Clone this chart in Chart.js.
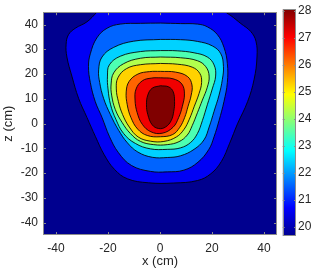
<!DOCTYPE html>
<html>
<head>
<meta charset="utf-8">
<script src="https://cdn.jsdelivr.net/npm/chart.js@4.4.1/dist/chart.umd.min.js"></script>
<style>
  body { margin: 0; background: #fff; }
  #wrap { position: relative; width: 316px; height: 270px; }
  #contour-chart { position: absolute; left: 0; top: 0; }
  #colorbar { position: absolute; left: 280px; top: 0; }
</style>
</head>
<body>
<div id="wrap">
  <canvas id="contour-chart" width="316" height="270"></canvas>
  <canvas id="colorbar" width="36" height="270"></canvas>
</div>
<script>
// contour lines, as [x (cm), z (cm)] pairs, outermost first
const contour1 = [[0, 52], [-22.8, 46.8], [-24.3, 45], [-28.1, 41.1], [-32.6, 38.5], [-35.2, 35.9], [-36.1, 32.1], [-35.8, 26.9], [-33.9, 19.2], [-31.3, 10.2], [-28.1, 2.5], [-24.8, -5.3], [-21.5, -12.5], [-17.5, -18.5], [-12.5, -22.3], [-4.5, -23.9], [5.3, -24.0], [14.4, -23.0], [19.5, -20.3], [23.6, -15.3], [26.8, -7.9], [29.8, -0.1], [33.7, 8.9], [36.2, 17.9], [37.3, 26.9], [36.9, 33.3], [34.9, 37.2], [31.1, 40.4], [27.3, 43.6], [25.3, 45], [23.8, 46.8]];
const contour2 = [[0.2, 40.6], [7.9, 40.4], [14.4, 40.2], [18.2, 39.1], [22.1, 35.9], [24.6, 30.8], [25.9, 24.3], [25.9, 16.6], [24.6, 8.9], [22.7, 1.2], [20.8, -5.3], [18.8, -10.4], [14.6, -15.6], [9.2, -18.8], [2.8, -19.5], [-3.7, -19.3], [-11.0, -16.9], [-16.0, -11.7], [-19.4, -5.3], [-22.3, 2.5], [-24.9, 8.9], [-26.8, 16.6], [-27.5, 23.1], [-26.8, 28.2], [-24.3, 34.6], [-20.4, 38.5], [-15.3, 40.2], [-7.5, 40.5]];
const contour3 = [[0.2, 34.0], [7.9, 33.9], [14.4, 33.2], [20.1, 31.4], [23.4, 28.2], [24.4, 23.0], [24.0, 17.9], [22.7, 11.5], [20.8, 5.0], [18.9, -1.4], [16.9, -6.6], [13.1, -10.4], [7.9, -13.0], [2.8, -13.7], [-3.0, -13.6], [-8.5, -11.5], [-12.5, -7.8], [-15.9, -2.7], [-19.1, 3.7], [-21.7, 10.2], [-23.2, 16.6], [-23.6, 21.7], [-22.3, 26.9], [-17.8, 30.8], [-10.1, 33.3]];
const contour4 = [[0.2, 29.5], [6.6, 29.4], [13.1, 28.6], [18.2, 26.9], [20.8, 23.7], [21.4, 19.2], [20.1, 14.0], [18.2, 7.6], [16.3, 1.2], [14.4, -4.0], [11.8, -7.6], [7.9, -9.8], [2.8, -10.4], [-3.7, -10.2], [-9.5, -8.0], [-14.0, -4.0], [-17.0, 1.8], [-19.0, 7.6], [-20.0, 14.0], [-20.2, 19.2], [-19.5, 23.7], [-15.3, 27.2], [-7.5, 29.1]];
const contour5 = [[0.2, 26.9], [7.9, 26.6], [14.4, 25.4], [17.6, 23.0], [18.9, 19.2], [18.2, 14.7], [16.3, 9.5], [14.4, 4.4], [12.4, -0.8], [10.5, -4.6], [7.3, -7.3], [2.8, -8.5], [-2.4, -8.5], [-7.5, -7.2], [-11.4, -4.0], [-14.6, 0.5], [-17.2, 5.7], [-18.6, 11.5], [-18.8, 16.0], [-17.8, 20.5], [-14.0, 24.2], [-7.5, 26.4]];
const contour6 = [[0.2, 24.3], [6.6, 24.0], [12.4, 22.8], [15.3, 20.3], [16.0, 16.6], [15.0, 12.1], [13.2, 7.0], [11.3, 1.8], [9.2, -2.4], [6.3, -5.4], [1.5, -7.2], [-3.7, -7.1], [-8.4, -5.4], [-11.8, -1.4], [-14.4, 3.7], [-16.0, 8.9], [-16.8, 14.0], [-16.2, 18.5], [-12.9, 22.2], [-7.5, 23.8]];
const contour7 = [[0.2, 21.1], [6.0, 20.8], [10.6, 19.0], [12.3, 15.6], [12.0, 11.5], [10.8, 7.0], [9.5, 2.5], [7.6, -1.5], [4.9, -4.4], [0.2, -5.3], [-4.9, -4.8], [-8.6, -2.2], [-11.2, 2.5], [-12.6, 7.6], [-13.0, 12.8], [-11.9, 17.0], [-8.5, 20.0], [-4.0, 21.0]];
const contour8 = [[0.2, 18.5], [5.0, 18.1], [8.4, 16.0], [9.4, 12.0], [8.6, 7.0], [7.2, 2.5], [5.0, -1.5], [0.8, -3.9], [-3.5, -3.3], [-6.8, -0.3], [-8.8, 4.5], [-9.6, 9.5], [-9.2, 14.0], [-6.8, 17.3], [-3.2, 18.4]];
const contour9 = [[0.2, 15.3], [3.4, 14.8], [5.1, 12.8], [5.6, 8.9], [5.3, 5.0], [4.3, 1.2], [2.1, -1.4], [-0.5, -2.0], [-3.0, -0.5], [-4.7, 3.7], [-5.2, 7.6], [-4.7, 11.5], [-3.0, 14.3]];

const xTicks = [-40, -20, 0, 20, 40];
const zTicks = [-40, -30, -20, -10, 0, 10, 20, 30, 40];
const cbarTicks = [20, 21, 22, 23, 24, 25, 26, 27, 28];
const cbarRange = [19.66, 28.07];

// jet colours, lowest band first
const bandColors = ['#00008F', '#0000F5', '#0064FF', '#00D2FF', '#4DFFB2', '#B2FF4D', '#FFD200', '#FF6400', '#F00000', '#800000'];
const jetStops = [[0, '#00008F'], [0.125, '#0000FF'], [0.375, '#00FFFF'], [0.625, '#FFFF00'], [0.875, '#FF0000'], [1, '#800000']];

const textColor = '#262626';
const fontFamily = "'Liberation Sans', Arial, sans-serif";

const contours = [contour1, contour2, contour3, contour4, contour5, contour6, contour7, contour8, contour9];

const plotFrame = {
    id: 'plotFrame',
    beforeDatasetsDraw(chart) {
        const { ctx, chartArea: a } = chart;
        ctx.save();
        ctx.fillStyle = bandColors[0];
        ctx.fillRect(a.left, a.top, a.width, a.height);
        ctx.restore();
    },
    afterDatasetsDraw(chart) {
        const { ctx, chartArea: a, scales } = chart;
        ctx.save();
        ctx.strokeStyle = '#8c8c8c';
        ctx.lineWidth = 1;
        ctx.beginPath();
        xTicks.forEach(v => {
            const px = Math.round(scales.x.getPixelForValue(v)) + 0.5;
            ctx.moveTo(px, a.bottom); ctx.lineTo(px, a.bottom - 3);
            ctx.moveTo(px, a.top); ctx.lineTo(px, a.top + 3);
        });
        zTicks.forEach(v => {
            const py = Math.round(scales.y.getPixelForValue(v)) + 0.5;
            ctx.moveTo(a.left, py); ctx.lineTo(a.left + 3, py);
            ctx.moveTo(a.right, py); ctx.lineTo(a.right - 3, py);
        });
        ctx.stroke();
        ctx.strokeRect(Math.round(a.left) + 0.5, Math.round(a.top) + 0.5, Math.round(a.width) - 1, Math.round(a.height) - 1);
        ctx.restore();
    }
};

const barFrame = {
    id: 'barFrame',
    afterDatasetsDraw(chart) {
        const { ctx, chartArea: a, scales } = chart;
        ctx.save();
        ctx.strokeStyle = '#8c8c8c';
        ctx.lineWidth = 1;
        ctx.beginPath();
        cbarTicks.forEach(v => {
            const py = Math.round(scales.y.getPixelForValue(v)) + 0.5;
            ctx.moveTo(a.right, py); ctx.lineTo(a.right - 2, py);
            ctx.moveTo(a.left, py); ctx.lineTo(a.left + 2, py);
        });
        ctx.stroke();
        ctx.strokeRect(Math.round(a.left) + 0.5, Math.round(a.top) + 0.5, Math.round(a.width) - 1, Math.round(a.height) - 1);
        ctx.restore();
    }
};

function createContourChart() {
    const ctx = document.getElementById('contour-chart').getContext('2d');
    const datasets = contours.map((pts, i) => ({
        data: pts.concat([pts[0]]).map(([x, z]) => ({ x: x, y: z })),
        showLine: true,
        fill: 'shape',
        backgroundColor: bandColors[i + 1],
        borderColor: 'rgba(0,0,0,0.85)',
        borderWidth: 1,
        pointRadius: 0,
        tension: 0.4,
        order: contours.length - i
    }));

    new Chart(ctx, {
        type: 'scatter',
        data: { datasets: datasets },
        options: {
            responsive: false,
            animation: false,
            devicePixelRatio: 1,
            layout: { padding: { left: 0, right: 39, top: 3, bottom: 0 } },
            elements: { line: { capBezierPoints: false } },
            plugins: { legend: { display: false }, tooltip: { enabled: false } },
            scales: {
                x: {
                    type: 'linear', min: -45, max: 45,
                    grid: { display: false, drawTicks: false }, border: { display: false },
                    afterBuildTicks: s => { s.ticks = xTicks.map(v => ({ value: v })); },
                    afterFit: s => { s.height = 35; },
                    ticks: { autoSkip: false, maxRotation: 0, padding: 6, color: textColor, font: { family: fontFamily, size: 12 } },
                    title: { display: true, text: 'x (cm)', color: textColor, font: { family: fontFamily, size: 13 }, padding: { top: 1, bottom: 1 } }
                },
                y: {
                    type: 'linear', min: -45, max: 45,
                    grid: { display: false, drawTicks: false }, border: { display: false },
                    afterBuildTicks: s => { s.ticks = zTicks.map(v => ({ value: v })); },
                    afterFit: s => { s.width = 43; },
                    ticks: { autoSkip: false, padding: 5, color: textColor, font: { family: fontFamily, size: 12 } },
                    title: { display: true, text: 'z (cm)', color: textColor, font: { family: fontFamily, size: 13 }, padding: { top: 1, bottom: 1 } }
                }
            }
        },
        plugins: [plotFrame]
    });
}

function createColorbar() {
    const ctx = document.getElementById('colorbar').getContext('2d');
    new Chart(ctx, {
        type: 'bar',
        data: {
            labels: [''],
            datasets: [{
                data: [cbarRange],
                backgroundColor: c => {
                    const a = c.chart.chartArea;
                    if (!a) return bandColors[0];
                    const g = c.chart.ctx.createLinearGradient(0, a.bottom, 0, a.top);
                    jetStops.forEach(([p, col]) => g.addColorStop(p, col));
                    return g;
                },
                borderWidth: 0,
                barPercentage: 1,
                categoryPercentage: 1
            }]
        },
        options: {
            responsive: false,
            animation: false,
            devicePixelRatio: 1,
            layout: { padding: { left: 2.7, right: 0, top: 3, bottom: 34 } },
            plugins: { legend: { display: false }, tooltip: { enabled: false } },
            scales: {
                x: { display: false },
                y: {
                    position: 'right', min: cbarRange[0], max: cbarRange[1],
                    grid: { display: false, drawTicks: false }, border: { display: false },
                    afterBuildTicks: s => { s.ticks = cbarTicks.map(v => ({ value: v })); },
                    afterFit: s => { s.width = 20; },
                    ticks: { autoSkip: false, padding: 2, color: textColor, font: { family: fontFamily, size: 12 } }
                }
            }
        },
        plugins: [barFrame]
    });
}

document.addEventListener('DOMContentLoaded', function() {
    createContourChart();
    createColorbar();
});
</script>
</body>
</html>
